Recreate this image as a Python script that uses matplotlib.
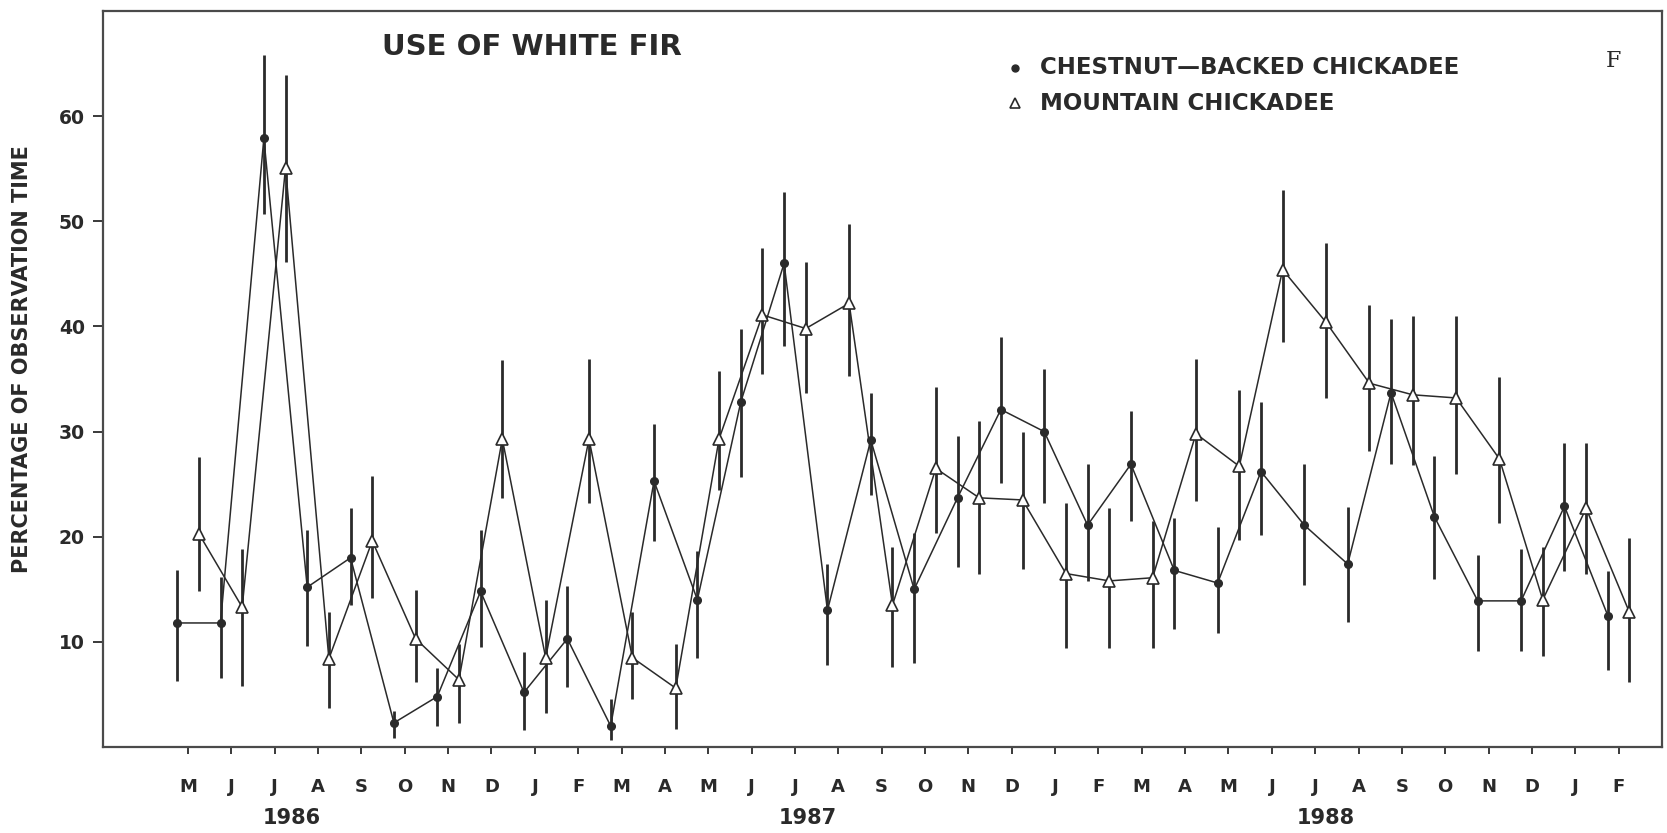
import matplotlib
matplotlib.use("Agg")
import matplotlib.pyplot as plt
import matplotlib.transforms as mtransforms
import numpy as np

# month labels, May 1986 .. Feb 1989
months = ["M", "J", "J", "A", "S", "O", "N", "D",
          "J", "F", "M", "A", "M", "J", "J", "A", "S", "O", "N", "D",
          "J", "F", "M", "A", "M", "J", "J", "A", "S", "O", "N", "D",
          "J", "F"]
years = ["1986", "1987", "1988"]

# chestnut-backed chickadee (filled circles)
cb_mean = [11.8, 11.8, 57.9, 15.2, 18.0, 2.3, 4.8, 14.8, 5.2, 10.3, 2.0, 25.3,
           14.0, 32.8, 46.0, 13.0, 29.2, 15.0, 23.7, 32.1, 30.0, 21.1, 26.9, 16.8,
           15.6, 26.2, 21.1, 17.4, 33.7, 21.9, 13.9, 13.9, 22.9, 12.5]
cb_low = [6.3, 6.6, 50.7, 9.6, 13.5, 0.9, 2.0, 9.5, 1.6, 5.7, 0.7, 19.6,
          8.5, 25.7, 38.1, 7.8, 24.0, 8.0, 17.1, 25.1, 23.2, 15.8, 21.5, 11.2,
          10.8, 20.2, 15.4, 11.9, 26.9, 16.0, 9.1, 9.1, 16.7, 7.3]
cb_high = [16.8, 16.2, 65.8, 20.6, 22.7, 3.4, 7.5, 20.6, 9.0, 15.3, 4.6, 30.7,
           18.6, 39.8, 52.8, 17.4, 33.7, 20.4, 29.6, 39.0, 36.0, 26.9, 32.0, 21.8,
           20.9, 32.8, 26.9, 22.8, 40.7, 27.7, 18.3, 18.8, 28.9, 16.7]

# mountain chickadee (open triangles)
mc_mean = [20.3, 13.3, 55.1, 8.4, 19.6, 10.3, 6.4, 29.3, 8.5, 29.3, 8.5, 5.6,
           29.3, 41.1, 39.8, 42.2, 13.5, 26.5, 23.7, 23.5, 16.5, 15.8, 16.1, 29.8,
           26.7, 45.4, 40.4, 34.6, 33.5, 33.2, 27.4, 14.0, 22.7, 12.8]
mc_low = [14.8, 5.8, 46.1, 3.7, 14.2, 6.2, 2.3, 23.7, 3.2, 23.2, 4.6, 1.7,
          24.4, 35.5, 33.7, 35.3, 7.6, 20.4, 16.5, 16.9, 9.4, 9.4, 9.4, 23.4,
          19.7, 38.5, 33.2, 28.2, 26.8, 26.0, 21.3, 8.7, 16.5, 6.2]
mc_high = [27.6, 18.8, 63.9, 12.8, 25.8, 14.9, 9.8, 36.8, 14.0, 36.9, 12.8, 9.8,
           35.8, 47.5, 46.1, 49.7, 19.0, 34.2, 31.0, 30.0, 23.2, 22.7, 21.5, 36.9,
           34.0, 53.0, 47.9, 42.0, 41.0, 41.0, 35.2, 19.0, 28.9, 19.9]

ink = "#2a2a2a"
bold = {"fontweight": "bold", "color": ink}

fig = plt.figure(figsize=(16.67, 8.33), dpi=100)
ax = fig.add_axes([0.0618, 0.1032, 0.9352, 0.8836])

m = np.arange(len(months))
x_cb = m - 0.25
x_mc = m + 0.25

ax.vlines(x_cb, cb_low, cb_high, color=ink, lw=2.0, zorder=2)
ax.vlines(x_mc, mc_low, mc_high, color=ink, lw=2.0, zorder=2)
ax.plot(x_cb, cb_mean, color=ink, lw=1.1, zorder=3)
ax.plot(x_mc, mc_mean, color=ink, lw=1.1, zorder=3)
ax.plot(x_cb, cb_mean, "o", ms=5.5, color=ink, zorder=4)
ax.plot(x_mc, mc_mean, "^", ms=9, mfc="white", mec=ink, mew=1.2, zorder=5)

ax.set_xlim(-1.96, 34.0)
ax.set_ylim(0, 70)

ax.set_yticks([10, 20, 30, 40, 50, 60])
ax.set_yticklabels(["10", "20", "30", "40", "50", "60"], fontsize=13.5, **bold)
ax.tick_params(axis="y", direction="out", length=7, width=1.3, color=ink, pad=6)

ax.set_xticks(m)
ax.set_xticklabels(months, fontsize=13, **bold)
ax.tick_params(axis="x", direction="out", length=5, width=1.3, color=ink, pad=17)

for s in ax.spines.values():
    s.set_linewidth(1.6)
    s.set_color("#4a4a4a")

# year labels under the month letters
trans = mtransforms.blended_transform_factory(ax.transData, fig.transFigure)
for yr, xpos in zip(years, [2.4, 14.3, 26.25]):
    fig.text(xpos, 1 - 818 / 833, yr, transform=trans, ha="center", va="center",
             fontsize=15, **bold)

fig.text(0.0132, 0.569, "PERCENTAGE OF OBSERVATION TIME", rotation=90,
         ha="center", va="center", fontsize=15, **bold)

ax.text(0.179, 0.951, "USE OF WHITE FIR", transform=ax.transAxes,
        ha="left", va="center", fontsize=21, **bold)

# hand-made key
ax.plot([0.585], [0.9226], "o", ms=5, color=ink, transform=ax.transAxes, clip_on=False)
ax.plot([0.585], [0.875], "^", ms=7, mfc="white", mec=ink, mew=1.2,
        transform=ax.transAxes, clip_on=False)
ax.text(0.601, 0.9226, "CHESTNUT\u2014BACKED CHICKADEE", transform=ax.transAxes,
        ha="left", va="center", fontsize=16.5, **bold)
ax.text(0.601, 0.875, "MOUNTAIN CHICKADEE", transform=ax.transAxes,
        ha="left", va="center", fontsize=16.5, **bold)

ax.text(0.9686, 0.932, "F", transform=ax.transAxes, ha="center", va="center",
        fontsize=16, family="DejaVu Serif", color=ink)

fig.savefig("out.png", dpi=100, facecolor="white")
